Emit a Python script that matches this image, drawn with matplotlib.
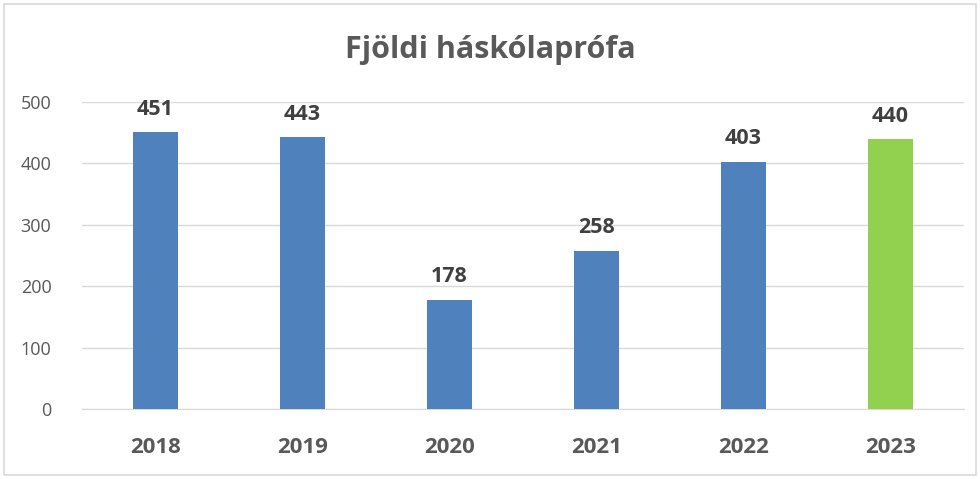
import matplotlib.pyplot as plt
from matplotlib.patches import Rectangle

years = ["2018", "2019", "2020", "2021", "2022", "2023"]
counts = [451, 443, 178, 258, 403, 440]
bar_colors = ["#4f81bd", "#4f81bd", "#4f81bd", "#4f81bd", "#4f81bd", "#92d050"]
yticks = [0, 100, 200, 300, 400, 500]

plt.rcParams['font.family'] = ['Open Sans', 'DejaVu Sans']

fig = plt.figure(figsize=(9.8, 4.79), dpi=100)
ax = fig.add_axes([0.0837, 0.146, 0.90, 0.641])

x = range(len(years))
bars = ax.bar(x, counts, color=bar_colors, width=0.31, zorder=3)

# value labels above bars
for xi, v in zip(x, counts):
    ax.text(xi, v + 20, str(v), ha='center', va='bottom', fontsize=15.5,
            fontweight='bold', color='#404040')

ax.set_xlim(-0.5, len(years) - 0.5)
ax.set_ylim(0, 500)
ax.set_yticks(yticks)
ax.set_yticklabels([str(t) for t in yticks], fontsize=13, color='#595959')
ax.set_xticks(list(x))
ax.set_xticklabels(years, fontsize=16, fontweight='bold', color='#595959')
ax.tick_params(axis='both', length=0)
ax.tick_params(axis='y', pad=22)
ax.tick_params(axis='x', pad=20)
ax.grid(axis='y', color='#d9d9d9', linewidth=1, zorder=0)
for s in ['top', 'right', 'left']:
    ax.spines[s].set_visible(False)
ax.spines['bottom'].set_color('#d9d9d9')

fig.text(0.5, 0.895, "Fjöldi háskólaprófa", ha='center', va='center',
         fontsize=22, fontweight='bold', color='#595959')

# outer chart frame
fig.patches.append(Rectangle((4 / 980, 4 / 479), 972 / 980, 471 / 479,
                             transform=fig.transFigure, fill=False,
                             edgecolor='#d9d9d9', linewidth=1.2))

fig.savefig("out.png", dpi=100)
